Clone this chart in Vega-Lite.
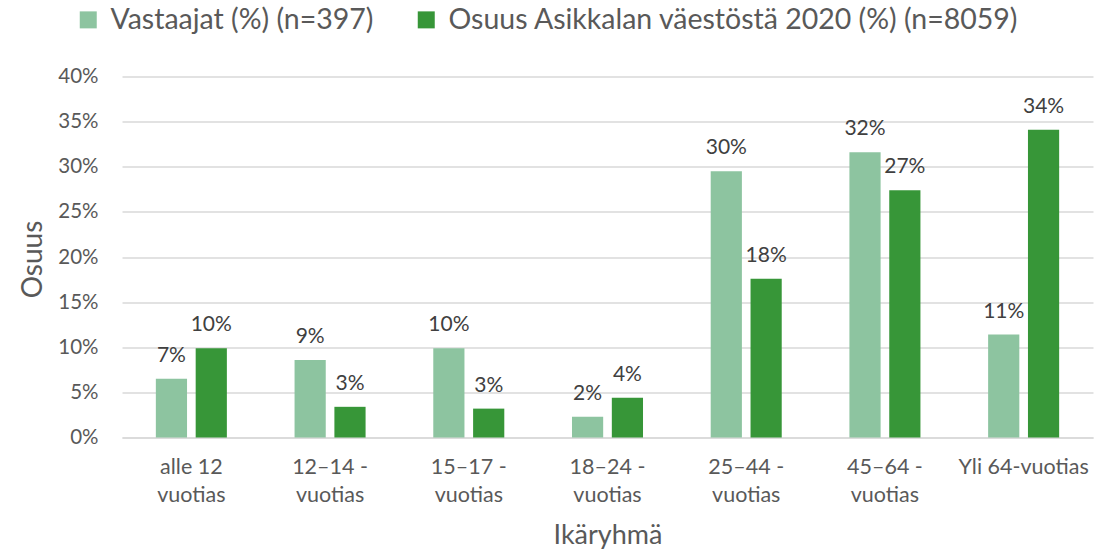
{
  "$schema": "https://vega.github.io/schema/vega-lite/v6.json",
  "width": 971,
  "height": 361,
  "autosize": {"type": "none"},
  "padding": {"left": 122, "top": 76.5, "right": 1, "bottom": 114.5},
  "background": "white",
  "config": {
    "font": "Lato",
    "view": {"stroke": null},
    "axis": {"labelFont": "Lato", "titleFont": "Lato", "labelColor": "#595959", "titleColor": "#595959", "titleFontWeight": "normal"}
  },
  "data": {
    "values": [
      {"group": "alle 12 vuotias", "series": "Vastaajat (%) (n=397)", "value": 0.065},
      {"group": "alle 12 vuotias", "series": "Osuus Asikkalan väestöstä 2020 (%) (n=8059)", "value": 0.099},
      {"group": "12–14 -vuotias", "series": "Vastaajat (%) (n=397)", "value": 0.086},
      {"group": "12–14 -vuotias", "series": "Osuus Asikkalan väestöstä 2020 (%) (n=8059)", "value": 0.034},
      {"group": "15–17 -vuotias", "series": "Vastaajat (%) (n=397)", "value": 0.099},
      {"group": "15–17 -vuotias", "series": "Osuus Asikkalan väestöstä 2020 (%) (n=8059)", "value": 0.032},
      {"group": "18–24 -vuotias", "series": "Vastaajat (%) (n=397)", "value": 0.023},
      {"group": "18–24 -vuotias", "series": "Osuus Asikkalan väestöstä 2020 (%) (n=8059)", "value": 0.044},
      {"group": "25–44 -vuotias", "series": "Vastaajat (%) (n=397)", "value": 0.295},
      {"group": "25–44 -vuotias", "series": "Osuus Asikkalan väestöstä 2020 (%) (n=8059)", "value": 0.176},
      {"group": "45–64 -vuotias", "series": "Vastaajat (%) (n=397)", "value": 0.316},
      {"group": "45–64 -vuotias", "series": "Osuus Asikkalan väestöstä 2020 (%) (n=8059)", "value": 0.274},
      {"group": "Yli 64-vuotias", "series": "Vastaajat (%) (n=397)", "value": 0.114},
      {"group": "Yli 64-vuotias", "series": "Osuus Asikkalan väestöstä 2020 (%) (n=8059)", "value": 0.341}
    ]
  },
  "encoding": {
    "x": {
      "field": "group", "type": "nominal", "sort": null,
      "scale": {"paddingInner": 0.488, "paddingOuter": 0.244},
      "axis": {
        "title": "Ikäryhmä", "labelAngle": 0, "labelFontSize": 21.5, "labelLineHeight": 28,
        "labelBaseline": "top", "labelPadding": 19, "ticks": false, "tickSize": 0,
        "domainColor": "#d9d9d9", "domainWidth": 1.5, "labelOverlap": false,
        "labelExpr": "indexof(datum.label, ' -') >= 0 ? [slice(datum.label, 0, indexof(datum.label, ' -') + 2), slice(datum.label, indexof(datum.label, ' -') + 2)] : (datum.label == 'alle 12 vuotias' ? ['alle 12', 'vuotias'] : datum.label)",
        "titleFontSize": 27, "titleY": 105.5, "titleBaseline": "alphabetic"
      }
    },
    "xOffset": {
      "field": "series", "type": "nominal", "sort": ["Vastaajat (%) (n=397)", "Osuus Asikkalan väestöstä 2020 (%) (n=8059)"],
      "scale": {"paddingInner": 0.217, "paddingOuter": 0}
    },
    "y": {
      "field": "value", "type": "quantitative",
      "scale": {"domain": [0, 0.4], "nice": false},
      "axis": {
        "title": "Osuus", "format": ".0%", "values": [0, 0.05, 0.1, 0.15, 0.2, 0.25, 0.3, 0.35, 0.4],
        "labelOverlap": false,
        "domain": false, "ticks": false, "tickSize": 0, "labelPadding": 24, "labelFontSize": 20.5,
        "gridColor": "#d9d9d9", "gridWidth": 1.5,
        "titleFontSize": 28, "titleX": -89, "titleY": 182.5, "titleAngle": -90, "titleAlign": "center", "titleBaseline": "middle"
      }
    }
  },
  "layer": [
    {
      "mark": {"type": "bar"},
      "encoding": {
        "color": {
          "field": "series", "type": "nominal",
          "sort": ["Vastaajat (%) (n=397)", "Osuus Asikkalan väestöstä 2020 (%) (n=8059)"],
          "scale": {"range": ["#8DC4A0", "#379638"]},
          "legend": {
            "title": null, "orient": "none", "direction": "horizontal",
            "legendX": -48, "legendY": -71,
            "symbolType": "square", "symbolSize": 289, "symbolStrokeWidth": 0, "symbolOpacity": 1,
            "labelFontSize": 28.5, "labelColor": "#595959", "labelFont": "Lato",
            "labelOffset": 8, "columnPadding": 38, "labelLimit": 900
          }
        }
      }
    },
    {
      "mark": {"type": "text", "baseline": "alphabetic", "dy": -17, "fontSize": 21, "color": "#404040"},
      "encoding": {
        "text": {"field": "value", "type": "quantitative", "format": ".0%"}
      }
    }
  ]
}
